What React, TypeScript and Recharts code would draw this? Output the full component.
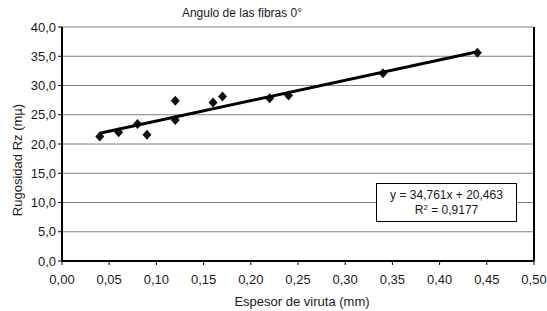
import React from 'react';
import {
  ScatterChart,
  Scatter,
  XAxis,
  YAxis,
  CartesianGrid,
  ReferenceLine,
} from 'recharts';

const espesor = [0.04, 0.06, 0.08, 0.09, 0.12, 0.12, 0.16, 0.17, 0.22, 0.24, 0.34, 0.44];
const rugosidad = [21.3, 22.0, 23.4, 21.6, 27.4, 24.1, 27.1, 28.1, 27.8, 28.3, 32.1, 35.6];
const trendX = [0.04, 0.44];
const trendY = [21.85, 35.76];
const xTicks = [0, 0.05, 0.1, 0.15, 0.2, 0.25, 0.3, 0.35, 0.4, 0.45, 0.5];
const yTicks = [0, 5, 10, 15, 20, 25, 30, 35, 40];

const points = espesor.map((x, i) => ({ x, y: rugosidad[i] }));
const trend = trendX.map((x, i) => ({ x, y: trendY[i] }));

const FONT = '"Liberation Sans", Arial, sans-serif';
const TXT = '#1a1a1a';
const fmt = (v: number, d: number) => v.toFixed(d).replace('.', ',');

const Diamond = (props: any) => {
  const { cx, cy } = props;
  if (cx == null || cy == null) return null;
  return <polygon points={`${cx},${cy - 5} ${cx + 4.5},${cy} ${cx},${cy + 5} ${cx - 4.5},${cy}`} fill="#111" />;
};

const App: React.FC = () => (
  <div style={{ position: 'absolute', left: 0, top: 0, width: 547, height: 311, background: '#fff', fontFamily: FONT }}>
    <div style={{ position: 'absolute', left: 142, width: 200, top: 6, textAlign: 'center', fontSize: 12, color: TXT }}>
      Angulo de las fibras 0°
    </div>
    <ScatterChart width={547} height={311} margin={{ top: 27, right: 13, bottom: 0, left: 10 }}>
      <CartesianGrid vertical={false} stroke="#808080" strokeWidth={1} />
      <XAxis
        type="number"
        dataKey="x"
        domain={[0, 0.5]}
        ticks={xTicks}
        tickFormatter={(v: number) => fmt(v, 2)}
        height={50}
        axisLine={{ stroke: '#000', strokeWidth: 2 }}
        tickLine={{ stroke: '#000' }}
        tickSize={4}
        tickMargin={10}
        tick={{ fill: TXT, fontSize: 13, fontFamily: FONT }}
        label={{
          content: () => (
            <text x={302} y={306} textAnchor="middle" fill={TXT} fontSize={13} fontFamily={FONT}>
              Espesor de viruta (mm)
            </text>
          ),
        }}
      />
      <YAxis
        type="number"
        dataKey="y"
        domain={[0, 40]}
        ticks={yTicks}
        tickFormatter={(v: number) => fmt(v, 1)}
        width={52}
        axisLine={{ stroke: '#000', strokeWidth: 2 }}
        tickLine={{ stroke: '#000' }}
        tickSize={4}
        tickMargin={2}
        tick={{ fill: TXT, fontSize: 13, fontFamily: FONT }}
        label={{
          content: () => (
            <text
              x={22}
              y={160}
              transform="rotate(-90 22 160)"
              textAnchor="middle"
              fill={TXT}
              fontSize={13}
              fontFamily={FONT}
            >
              Rugosidad Rz (mµ)
            </text>
          ),
        }}
      />
      <ReferenceLine x={0.5} stroke="#000" strokeWidth={2} />
      <Scatter data={points} shape={<Diamond />} isAnimationActive={false} />
      <Scatter
        data={trend}
        line={{ stroke: '#000', strokeWidth: 3 }}
        lineType="joint"
        shape={() => null}
        isAnimationActive={false}
      />
    </ScatterChart>
    <div
      style={{
        position: 'absolute',
        left: 376,
        top: 183,
        width: 141,
        height: 39,
        border: '1px solid #000',
        background: '#fff',
        fontSize: 12,
        color: TXT,
        textAlign: 'center',
        lineHeight: '15px',
        paddingTop: 4,
        boxSizing: 'border-box',
      }}
    >
      <div>y = 34,761x + 20,463</div>
      <div>R<sup style={{ fontSize: 8, verticalAlign: 'top', lineHeight: '10px' }}>2</sup> = 0,9177</div>
    </div>
  </div>
);

export default App;
